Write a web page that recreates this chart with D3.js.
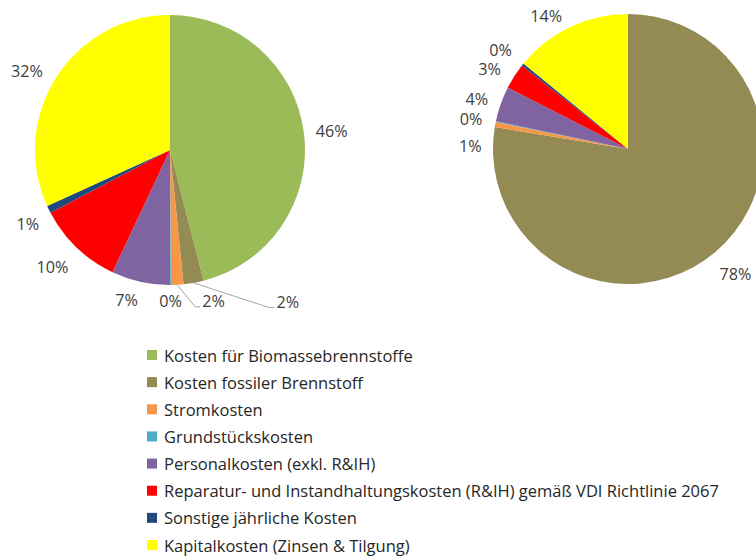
<!DOCTYPE html>
<html>
<head>
<meta charset="utf-8">
<script src="https://cdn.jsdelivr.net/npm/d3@7"></script>
<style>
  html, body { margin: 0; padding: 0; background: #fff; overflow: hidden; }
  svg { display: block; }
  text { font-family: "Open Sans", "Noto Sans", sans-serif; }
</style>
</head>
<body>
<svg id="chart" width="756" height="556"></svg>
<script>
// ---- data ----
const categories = [
  "Kosten für Biomassebrennstoffe",
  "Kosten fossiler Brennstoff",
  "Stromkosten",
  "Grundstückskosten",
  "Personalkosten (exkl. R&IH)",
  "Reparatur- und Instandhaltungskosten (R&IH) gemäß VDI Richtlinie 2067",
  "Sonstige jährliche Kosten",
  "Kapitalkosten (Zinsen & Tilgung)"
];
const valuesBiomass = [46.0, 2.4, 1.5, 0.1, 7.0, 10.3, 0.9, 31.8];
const valuesFossil  = [null, 77.6, 0.6, 0.1, 4.2, 3.1, 0.3, 14.1];

// ---- styles / layout ----
const palette = ["#9BBB59", "#948A54", "#F79646", "#4BACC6", "#8064A2", "#FF0000", "#1F497D", "#FFFF00"];
const layout = {
  radius: 135,
  labelPad: 12,
  labelH: 14,
  fontSize: 16.2,
  legendFontSize: 16.5,
  left:  { cx: 170, cy: 150,
           nudge: [[0,0],[90,0],[35,-3],[0,-3],[-9,0],[-5,6],[0,6],[-6,4]],
           leaders: [1, 2] },
  right: { cx: 628, cy: 149,
           nudge: [[0,0],[2,8],[-2,25],[-2,1],[-2,1],[-5,3],[-4,-3],[-12,6]],
           leaders: [] }
};

const svg = d3.select("#chart");
const color = d3.scaleOrdinal().domain(categories).range(palette);

function drawPie(values, cfg) {
  const data = categories.map((c, i) => ({ cat: c, i, value: values[i] }));
  const total = d3.sum(data, d => d.value || 0);
  const pie = d3.pie().sort(null).value(d => d.value || 0);
  const arcs = pie(data);
  const arc = d3.arc().innerRadius(0).outerRadius(layout.radius);
  const g = svg.append("g").attr("transform", `translate(${cfg.cx},${cfg.cy})`);

  g.selectAll("path.slice")
    .data(arcs.filter(d => d.data.value))
    .join("path")
    .attr("class", "slice")
    .attr("d", arc)
    .attr("fill", d => color(d.data.cat));

  const labeled = arcs.filter(d => d.data.value != null);
  const pct = v => Math.round(v / total * 100) + "%";

  const labels = g.selectAll("text.lbl")
    .data(labeled)
    .join("text")
    .attr("class", "lbl")
    .attr("font-size", layout.fontSize)
    .attr("fill", "#404040")
    .attr("text-anchor", "middle")
    .attr("dominant-baseline", "central")
    .text(d => pct(d.data.value));

  labels.each(function(d) {
    const w = this.getComputedTextLength();
    const a = (d.startAngle + d.endAngle) / 2;
    const s = Math.sin(a), c = Math.cos(a);
    const rr = layout.radius + layout.labelPad;
    const n = cfg.nudge[d.data.i] || [0, 0];
    const x = rr * s + s * w / 2 + n[0];
    const y = -rr * c - c * layout.labelH / 2 + n[1];
    d3.select(this).attr("x", x).attr("y", y);
    if (cfg.leaders.includes(d.data.i)) {
      const x0 = layout.radius * s, y0 = -layout.radius * c;
      const lx = x - w / 2;
      g.insert("polyline", "text")
        .attr("points", [[x0, y0], [lx - 7, y + 6], [lx - 2, y + 6]].map(p => p.join(",")).join(" "))
        .attr("fill", "none")
        .attr("stroke", "#a6a6a6")
        .attr("stroke-width", 1);
    }
  });
}

drawPie(valuesBiomass, layout.left);
drawPie(valuesFossil, layout.right);

// ---- legend ----
const ly = d3.scalePoint().domain(categories).range([355, 545]);
const lg = svg.append("g");
const items = lg.selectAll("g.item").data(categories).join("g")
  .attr("class", "item")
  .attr("transform", d => `translate(147,${ly(d)})`);
items.append("rect")
  .attr("x", 0).attr("y", -5).attr("width", 10).attr("height", 10)
  .attr("fill", d => color(d));
items.append("text")
  .attr("x", 17).attr("y", 0)
  .attr("dominant-baseline", "central")
  .attr("font-size", layout.legendFontSize)
  .attr("fill", "#262626")
  .text(d => d);
</script>
</body>
</html>
